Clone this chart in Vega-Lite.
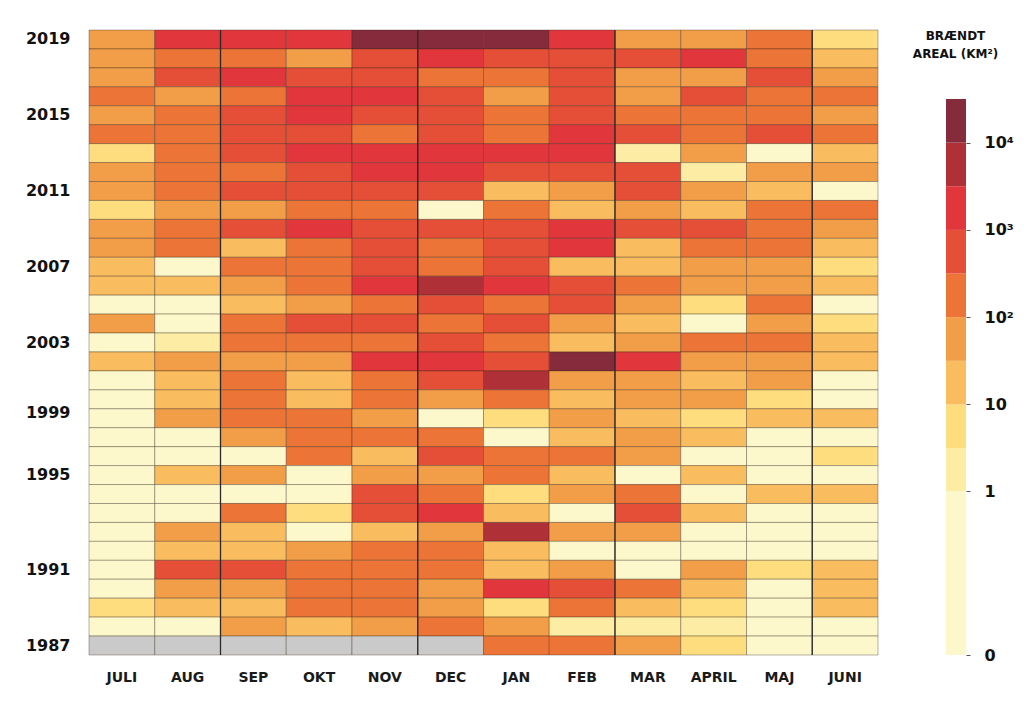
{
"$schema": "https://vega.github.io/schema/vega-lite/v6.json",
"padding": {"left": 25, "top": 29, "right": 5, "bottom": 5},
"background": "white",
"bounds": "flush",
"spacing": 68,
"config": {"view": {"stroke": null}, "font": "DejaVu Sans"},
"resolve": {"scale": {"color": "independent"}},
"datasets": {
"seps": [{"m":"SEP"},{"m":"DEC"},{"m":"MAR"},{"m":"JUNI"}],
"bands": [{"lo":0,"hi":1},{"lo":1,"hi":3.1623},{"lo":3.1623,"hi":10},{"lo":10,"hi":31.623},{"lo":31.623,"hi":100},{"lo":100,"hi":316.23},{"lo":316.23,"hi":1000},{"lo":1000,"hi":3162.3},{"lo":3162.3,"hi":10000},{"lo":10000,"hi":31623}],
"cells": [
{"y":2019,"m":"JULI","v":50},{"y":2019,"m":"AUG","v":2000},{"y":2019,"m":"SEP","v":2000},{"y":2019,"m":"OKT","v":2000},{"y":2019,"m":"NOV","v":20000},{"y":2019,"m":"DEC","v":20000},{"y":2019,"m":"JAN","v":20000},{"y":2019,"m":"FEB","v":2000},{"y":2019,"m":"MAR","v":50},{"y":2019,"m":"APRIL","v":50},{"y":2019,"m":"MAJ","v":200},{"y":2019,"m":"JUNI","v":5},
{"y":2018,"m":"JULI","v":50},{"y":2018,"m":"AUG","v":200},{"y":2018,"m":"SEP","v":200},{"y":2018,"m":"OKT","v":50},{"y":2018,"m":"NOV","v":500},{"y":2018,"m":"DEC","v":2000},{"y":2018,"m":"JAN","v":500},{"y":2018,"m":"FEB","v":500},{"y":2018,"m":"MAR","v":500},{"y":2018,"m":"APRIL","v":2000},{"y":2018,"m":"MAJ","v":200},{"y":2018,"m":"JUNI","v":20},
{"y":2017,"m":"JULI","v":50},{"y":2017,"m":"AUG","v":500},{"y":2017,"m":"SEP","v":2000},{"y":2017,"m":"OKT","v":500},{"y":2017,"m":"NOV","v":500},{"y":2017,"m":"DEC","v":200},{"y":2017,"m":"JAN","v":200},{"y":2017,"m":"FEB","v":500},{"y":2017,"m":"MAR","v":50},{"y":2017,"m":"APRIL","v":50},{"y":2017,"m":"MAJ","v":500},{"y":2017,"m":"JUNI","v":50},
{"y":2016,"m":"JULI","v":200},{"y":2016,"m":"AUG","v":50},{"y":2016,"m":"SEP","v":200},{"y":2016,"m":"OKT","v":2000},{"y":2016,"m":"NOV","v":2000},{"y":2016,"m":"DEC","v":500},{"y":2016,"m":"JAN","v":50},{"y":2016,"m":"FEB","v":500},{"y":2016,"m":"MAR","v":50},{"y":2016,"m":"APRIL","v":500},{"y":2016,"m":"MAJ","v":200},{"y":2016,"m":"JUNI","v":200},
{"y":2015,"m":"JULI","v":50},{"y":2015,"m":"AUG","v":200},{"y":2015,"m":"SEP","v":500},{"y":2015,"m":"OKT","v":2000},{"y":2015,"m":"NOV","v":500},{"y":2015,"m":"DEC","v":500},{"y":2015,"m":"JAN","v":200},{"y":2015,"m":"FEB","v":500},{"y":2015,"m":"MAR","v":200},{"y":2015,"m":"APRIL","v":200},{"y":2015,"m":"MAJ","v":200},{"y":2015,"m":"JUNI","v":50},
{"y":2014,"m":"JULI","v":200},{"y":2014,"m":"AUG","v":200},{"y":2014,"m":"SEP","v":500},{"y":2014,"m":"OKT","v":500},{"y":2014,"m":"NOV","v":200},{"y":2014,"m":"DEC","v":500},{"y":2014,"m":"JAN","v":200},{"y":2014,"m":"FEB","v":2000},{"y":2014,"m":"MAR","v":500},{"y":2014,"m":"APRIL","v":200},{"y":2014,"m":"MAJ","v":500},{"y":2014,"m":"JUNI","v":200},
{"y":2013,"m":"JULI","v":5},{"y":2013,"m":"AUG","v":200},{"y":2013,"m":"SEP","v":500},{"y":2013,"m":"OKT","v":2000},{"y":2013,"m":"NOV","v":2000},{"y":2013,"m":"DEC","v":2000},{"y":2013,"m":"JAN","v":2000},{"y":2013,"m":"FEB","v":2000},{"y":2013,"m":"MAR","v":2},{"y":2013,"m":"APRIL","v":50},{"y":2013,"m":"MAJ","v":0.3},{"y":2013,"m":"JUNI","v":20},
{"y":2012,"m":"JULI","v":50},{"y":2012,"m":"AUG","v":200},{"y":2012,"m":"SEP","v":200},{"y":2012,"m":"OKT","v":500},{"y":2012,"m":"NOV","v":2000},{"y":2012,"m":"DEC","v":2000},{"y":2012,"m":"JAN","v":500},{"y":2012,"m":"FEB","v":500},{"y":2012,"m":"MAR","v":500},{"y":2012,"m":"APRIL","v":2},{"y":2012,"m":"MAJ","v":50},{"y":2012,"m":"JUNI","v":50},
{"y":2011,"m":"JULI","v":50},{"y":2011,"m":"AUG","v":200},{"y":2011,"m":"SEP","v":500},{"y":2011,"m":"OKT","v":500},{"y":2011,"m":"NOV","v":500},{"y":2011,"m":"DEC","v":500},{"y":2011,"m":"JAN","v":20},{"y":2011,"m":"FEB","v":50},{"y":2011,"m":"MAR","v":500},{"y":2011,"m":"APRIL","v":50},{"y":2011,"m":"MAJ","v":20},{"y":2011,"m":"JUNI","v":0.3},
{"y":2010,"m":"JULI","v":5},{"y":2010,"m":"AUG","v":50},{"y":2010,"m":"SEP","v":50},{"y":2010,"m":"OKT","v":200},{"y":2010,"m":"NOV","v":200},{"y":2010,"m":"DEC","v":0.3},{"y":2010,"m":"JAN","v":200},{"y":2010,"m":"FEB","v":20},{"y":2010,"m":"MAR","v":50},{"y":2010,"m":"APRIL","v":20},{"y":2010,"m":"MAJ","v":200},{"y":2010,"m":"JUNI","v":200},
{"y":2009,"m":"JULI","v":50},{"y":2009,"m":"AUG","v":200},{"y":2009,"m":"SEP","v":500},{"y":2009,"m":"OKT","v":2000},{"y":2009,"m":"NOV","v":500},{"y":2009,"m":"DEC","v":500},{"y":2009,"m":"JAN","v":500},{"y":2009,"m":"FEB","v":2000},{"y":2009,"m":"MAR","v":500},{"y":2009,"m":"APRIL","v":500},{"y":2009,"m":"MAJ","v":200},{"y":2009,"m":"JUNI","v":50},
{"y":2008,"m":"JULI","v":50},{"y":2008,"m":"AUG","v":200},{"y":2008,"m":"SEP","v":20},{"y":2008,"m":"OKT","v":200},{"y":2008,"m":"NOV","v":500},{"y":2008,"m":"DEC","v":200},{"y":2008,"m":"JAN","v":500},{"y":2008,"m":"FEB","v":2000},{"y":2008,"m":"MAR","v":20},{"y":2008,"m":"APRIL","v":200},{"y":2008,"m":"MAJ","v":200},{"y":2008,"m":"JUNI","v":20},
{"y":2007,"m":"JULI","v":20},{"y":2007,"m":"AUG","v":0.3},{"y":2007,"m":"SEP","v":200},{"y":2007,"m":"OKT","v":200},{"y":2007,"m":"NOV","v":500},{"y":2007,"m":"DEC","v":200},{"y":2007,"m":"JAN","v":500},{"y":2007,"m":"FEB","v":20},{"y":2007,"m":"MAR","v":20},{"y":2007,"m":"APRIL","v":50},{"y":2007,"m":"MAJ","v":50},{"y":2007,"m":"JUNI","v":5},
{"y":2006,"m":"JULI","v":20},{"y":2006,"m":"AUG","v":20},{"y":2006,"m":"SEP","v":50},{"y":2006,"m":"OKT","v":200},{"y":2006,"m":"NOV","v":2000},{"y":2006,"m":"DEC","v":5000},{"y":2006,"m":"JAN","v":2000},{"y":2006,"m":"FEB","v":500},{"y":2006,"m":"MAR","v":200},{"y":2006,"m":"APRIL","v":50},{"y":2006,"m":"MAJ","v":50},{"y":2006,"m":"JUNI","v":20},
{"y":2005,"m":"JULI","v":0.3},{"y":2005,"m":"AUG","v":0.3},{"y":2005,"m":"SEP","v":20},{"y":2005,"m":"OKT","v":50},{"y":2005,"m":"NOV","v":200},{"y":2005,"m":"DEC","v":500},{"y":2005,"m":"JAN","v":200},{"y":2005,"m":"FEB","v":500},{"y":2005,"m":"MAR","v":50},{"y":2005,"m":"APRIL","v":5},{"y":2005,"m":"MAJ","v":200},{"y":2005,"m":"JUNI","v":0.3},
{"y":2004,"m":"JULI","v":50},{"y":2004,"m":"AUG","v":0.3},{"y":2004,"m":"SEP","v":200},{"y":2004,"m":"OKT","v":500},{"y":2004,"m":"NOV","v":500},{"y":2004,"m":"DEC","v":200},{"y":2004,"m":"JAN","v":500},{"y":2004,"m":"FEB","v":50},{"y":2004,"m":"MAR","v":20},{"y":2004,"m":"APRIL","v":0.3},{"y":2004,"m":"MAJ","v":50},{"y":2004,"m":"JUNI","v":5},
{"y":2003,"m":"JULI","v":0.3},{"y":2003,"m":"AUG","v":2},{"y":2003,"m":"SEP","v":200},{"y":2003,"m":"OKT","v":200},{"y":2003,"m":"NOV","v":200},{"y":2003,"m":"DEC","v":500},{"y":2003,"m":"JAN","v":200},{"y":2003,"m":"FEB","v":20},{"y":2003,"m":"MAR","v":50},{"y":2003,"m":"APRIL","v":200},{"y":2003,"m":"MAJ","v":200},{"y":2003,"m":"JUNI","v":20},
{"y":2002,"m":"JULI","v":20},{"y":2002,"m":"AUG","v":50},{"y":2002,"m":"SEP","v":50},{"y":2002,"m":"OKT","v":50},{"y":2002,"m":"NOV","v":2000},{"y":2002,"m":"DEC","v":2000},{"y":2002,"m":"JAN","v":500},{"y":2002,"m":"FEB","v":20000},{"y":2002,"m":"MAR","v":2000},{"y":2002,"m":"APRIL","v":50},{"y":2002,"m":"MAJ","v":50},{"y":2002,"m":"JUNI","v":20},
{"y":2001,"m":"JULI","v":0.3},{"y":2001,"m":"AUG","v":20},{"y":2001,"m":"SEP","v":200},{"y":2001,"m":"OKT","v":20},{"y":2001,"m":"NOV","v":200},{"y":2001,"m":"DEC","v":500},{"y":2001,"m":"JAN","v":5000},{"y":2001,"m":"FEB","v":50},{"y":2001,"m":"MAR","v":50},{"y":2001,"m":"APRIL","v":20},{"y":2001,"m":"MAJ","v":50},{"y":2001,"m":"JUNI","v":0.3},
{"y":2000,"m":"JULI","v":0.3},{"y":2000,"m":"AUG","v":20},{"y":2000,"m":"SEP","v":200},{"y":2000,"m":"OKT","v":20},{"y":2000,"m":"NOV","v":200},{"y":2000,"m":"DEC","v":50},{"y":2000,"m":"JAN","v":200},{"y":2000,"m":"FEB","v":20},{"y":2000,"m":"MAR","v":50},{"y":2000,"m":"APRIL","v":50},{"y":2000,"m":"MAJ","v":5},{"y":2000,"m":"JUNI","v":0.3},
{"y":1999,"m":"JULI","v":0.3},{"y":1999,"m":"AUG","v":50},{"y":1999,"m":"SEP","v":200},{"y":1999,"m":"OKT","v":200},{"y":1999,"m":"NOV","v":50},{"y":1999,"m":"DEC","v":0.3},{"y":1999,"m":"JAN","v":5},{"y":1999,"m":"FEB","v":50},{"y":1999,"m":"MAR","v":20},{"y":1999,"m":"APRIL","v":5},{"y":1999,"m":"MAJ","v":20},{"y":1999,"m":"JUNI","v":20},
{"y":1998,"m":"JULI","v":0.3},{"y":1998,"m":"AUG","v":0.3},{"y":1998,"m":"SEP","v":50},{"y":1998,"m":"OKT","v":200},{"y":1998,"m":"NOV","v":200},{"y":1998,"m":"DEC","v":200},{"y":1998,"m":"JAN","v":0.3},{"y":1998,"m":"FEB","v":20},{"y":1998,"m":"MAR","v":50},{"y":1998,"m":"APRIL","v":20},{"y":1998,"m":"MAJ","v":0.3},{"y":1998,"m":"JUNI","v":0.3},
{"y":1997,"m":"JULI","v":0.3},{"y":1997,"m":"AUG","v":0.3},{"y":1997,"m":"SEP","v":0.3},{"y":1997,"m":"OKT","v":200},{"y":1997,"m":"NOV","v":20},{"y":1997,"m":"DEC","v":500},{"y":1997,"m":"JAN","v":200},{"y":1997,"m":"FEB","v":200},{"y":1997,"m":"MAR","v":50},{"y":1997,"m":"APRIL","v":0.3},{"y":1997,"m":"MAJ","v":0.3},{"y":1997,"m":"JUNI","v":5},
{"y":1996,"m":"JULI","v":0.3},{"y":1996,"m":"AUG","v":20},{"y":1996,"m":"SEP","v":50},{"y":1996,"m":"OKT","v":0.3},{"y":1996,"m":"NOV","v":50},{"y":1996,"m":"DEC","v":50},{"y":1996,"m":"JAN","v":200},{"y":1996,"m":"FEB","v":20},{"y":1996,"m":"MAR","v":0.3},{"y":1996,"m":"APRIL","v":20},{"y":1996,"m":"MAJ","v":0.3},{"y":1996,"m":"JUNI","v":0.3},
{"y":1995,"m":"JULI","v":0.3},{"y":1995,"m":"AUG","v":0.3},{"y":1995,"m":"SEP","v":0.3},{"y":1995,"m":"OKT","v":0.3},{"y":1995,"m":"NOV","v":500},{"y":1995,"m":"DEC","v":200},{"y":1995,"m":"JAN","v":5},{"y":1995,"m":"FEB","v":50},{"y":1995,"m":"MAR","v":200},{"y":1995,"m":"APRIL","v":0.3},{"y":1995,"m":"MAJ","v":20},{"y":1995,"m":"JUNI","v":20},
{"y":1994,"m":"JULI","v":0.3},{"y":1994,"m":"AUG","v":0.3},{"y":1994,"m":"SEP","v":200},{"y":1994,"m":"OKT","v":5},{"y":1994,"m":"NOV","v":500},{"y":1994,"m":"DEC","v":2000},{"y":1994,"m":"JAN","v":20},{"y":1994,"m":"FEB","v":0.3},{"y":1994,"m":"MAR","v":500},{"y":1994,"m":"APRIL","v":20},{"y":1994,"m":"MAJ","v":0.3},{"y":1994,"m":"JUNI","v":0.3},
{"y":1993,"m":"JULI","v":0.3},{"y":1993,"m":"AUG","v":50},{"y":1993,"m":"SEP","v":20},{"y":1993,"m":"OKT","v":0.3},{"y":1993,"m":"NOV","v":20},{"y":1993,"m":"DEC","v":50},{"y":1993,"m":"JAN","v":5000},{"y":1993,"m":"FEB","v":50},{"y":1993,"m":"MAR","v":50},{"y":1993,"m":"APRIL","v":0.3},{"y":1993,"m":"MAJ","v":0.3},{"y":1993,"m":"JUNI","v":0.3},
{"y":1992,"m":"JULI","v":0.3},{"y":1992,"m":"AUG","v":20},{"y":1992,"m":"SEP","v":20},{"y":1992,"m":"OKT","v":50},{"y":1992,"m":"NOV","v":200},{"y":1992,"m":"DEC","v":200},{"y":1992,"m":"JAN","v":20},{"y":1992,"m":"FEB","v":0.3},{"y":1992,"m":"MAR","v":0.3},{"y":1992,"m":"APRIL","v":0.3},{"y":1992,"m":"MAJ","v":0.3},{"y":1992,"m":"JUNI","v":0.3},
{"y":1991,"m":"JULI","v":0.3},{"y":1991,"m":"AUG","v":500},{"y":1991,"m":"SEP","v":500},{"y":1991,"m":"OKT","v":200},{"y":1991,"m":"NOV","v":200},{"y":1991,"m":"DEC","v":200},{"y":1991,"m":"JAN","v":20},{"y":1991,"m":"FEB","v":50},{"y":1991,"m":"MAR","v":0.3},{"y":1991,"m":"APRIL","v":50},{"y":1991,"m":"MAJ","v":5},{"y":1991,"m":"JUNI","v":20},
{"y":1990,"m":"JULI","v":0.3},{"y":1990,"m":"AUG","v":50},{"y":1990,"m":"SEP","v":50},{"y":1990,"m":"OKT","v":200},{"y":1990,"m":"NOV","v":200},{"y":1990,"m":"DEC","v":50},{"y":1990,"m":"JAN","v":2000},{"y":1990,"m":"FEB","v":500},{"y":1990,"m":"MAR","v":200},{"y":1990,"m":"APRIL","v":20},{"y":1990,"m":"MAJ","v":0.3},{"y":1990,"m":"JUNI","v":20},
{"y":1989,"m":"JULI","v":5},{"y":1989,"m":"AUG","v":20},{"y":1989,"m":"SEP","v":20},{"y":1989,"m":"OKT","v":200},{"y":1989,"m":"NOV","v":200},{"y":1989,"m":"DEC","v":50},{"y":1989,"m":"JAN","v":5},{"y":1989,"m":"FEB","v":200},{"y":1989,"m":"MAR","v":20},{"y":1989,"m":"APRIL","v":5},{"y":1989,"m":"MAJ","v":0.3},{"y":1989,"m":"JUNI","v":20},
{"y":1988,"m":"JULI","v":0.3},{"y":1988,"m":"AUG","v":0.3},{"y":1988,"m":"SEP","v":50},{"y":1988,"m":"OKT","v":20},{"y":1988,"m":"NOV","v":50},{"y":1988,"m":"DEC","v":200},{"y":1988,"m":"JAN","v":50},{"y":1988,"m":"FEB","v":2},{"y":1988,"m":"MAR","v":2},{"y":1988,"m":"APRIL","v":2},{"y":1988,"m":"MAJ","v":0.3},{"y":1988,"m":"JUNI","v":0.3},
{"y":1987,"m":"JULI","v":null},{"y":1987,"m":"AUG","v":null},{"y":1987,"m":"SEP","v":null},{"y":1987,"m":"OKT","v":null},{"y":1987,"m":"NOV","v":null},{"y":1987,"m":"DEC","v":null},{"y":1987,"m":"JAN","v":200},{"y":1987,"m":"FEB","v":200},{"y":1987,"m":"MAR","v":50},{"y":1987,"m":"APRIL","v":5},{"y":1987,"m":"MAJ","v":0.3},{"y":1987,"m":"JUNI","v":0.3}
]
},
"hconcat": [
{
"width": 789,
"height": 625,
"layer": [
{
"data": {"name": "cells"},
"mark": {"type": "rect", "stroke": "#3b2a1c", "strokeWidth": 0.8, "strokeOpacity": 0.45, "invalid": "show"},
"encoding": {
"x": {"field": "m", "type": "ordinal", "title": null,
"scale": {"domain": ["JULI","AUG","SEP","OKT","NOV","DEC","JAN","FEB","MAR","APRIL","MAJ","JUNI"], "paddingInner": 0, "paddingOuter": 0},
"axis": {"orient": "bottom", "ticks": false, "domain": false, "labelPadding": 15, "labelAngle": 0, "labelFont": "DejaVu Sans", "labelFontSize": 14, "labelFontWeight": "bold", "labelColor": "#1a1a1a"}},
"y": {"field": "y", "type": "ordinal", "sort": "descending", "title": null,
"scale": {"paddingInner": 0, "paddingOuter": 0},
"axis": {"values": [2019,2015,2011,2007,2003,1999,1995,1991,1987], "ticks": false, "domain": false, "labelPadding": 19, "labelFont": "DejaVu Sans", "labelFontSize": 16, "labelFontWeight": "bold", "labelColor": "#111111",
"labelOffset": {"condition": [{"test": "datum.value == 1995", "value": -19}, {"test": "datum.value == 1999", "value": -5}], "value": 0}}},
"color": {"condition": {"test": "datum.v === null", "value": "#cacaca"}, "field": "v", "type": "quantitative",
"scale": {"type": "threshold", "domain": [1, 3.1623, 10, 31.623, 100, 316.23, 1000, 3162.3, 10000],
"range": ["#fcf8cb", "#fdeda4", "#fedd7e", "#f9bc5f", "#f29d47", "#eb7436", "#e54e37", "#e0363c", "#b03037", "#852b3c"]},
"legend": null}
}
},
{
"data": {"name": "seps"},
"mark": {"type": "rule", "color": "#2a2a2a", "strokeWidth": 1.3},
"encoding": {
"x": {"field": "m", "type": "ordinal", "bandPosition": 0,
"scale": {"domain": ["JULI","AUG","SEP","OKT","NOV","DEC","JAN","FEB","MAR","APRIL","MAJ","JUNI"], "paddingInner": 0, "paddingOuter": 0}}
}
}
]
},
{
"width": 20,
"height": 625,
"data": {"name": "bands"},
"mark": {"type": "rect"},
"encoding": {
"y": {"field": "lo", "type": "quantitative",
"scale": {"type": "symlog", "constant": 0.0135, "domain": [0, 195000], "nice": false, "zero": false},
"axis": {"orient": "right", "values": [0, 1, 10, 100, 1000, 10000], "grid": false, "domain": false, "ticks": true, "tickSize": 4, "tickColor": "#555555",
"labelExpr": "datum.value == 10000 ? '10⁴' : datum.value == 1000 ? '10³' : datum.value == 100 ? '10²' : datum.value == 10 ? '10' : datum.value == 1 ? '1' : '0'",
"labelPadding": 14, "labelFont": "DejaVu Sans", "labelFontSize": 16, "labelFontWeight": "bold", "labelColor": "#111111",
"title": ["BRÆNDT", "AREAL (KM²)"], "titleAngle": 0, "titleAlign": "center", "titleBaseline": "top", "titleX": -11, "titleY": 0,
"titleFont": "DejaVu Sans", "titleFontSize": 12, "titleFontWeight": "bold", "titleLineHeight": 18, "titleColor": "#111111"}},
"y2": {"field": "hi"},
"color": {"field": "lo", "type": "quantitative",
"scale": {"type": "threshold", "domain": [1, 3.1623, 10, 31.623, 100, 316.23, 1000, 3162.3, 10000],
"range": ["#fcf8cb", "#fdeda4", "#fedd7e", "#f9bc5f", "#f29d47", "#eb7436", "#e54e37", "#e0363c", "#b03037", "#852b3c"]},
"legend": null}
}
}
]
}
